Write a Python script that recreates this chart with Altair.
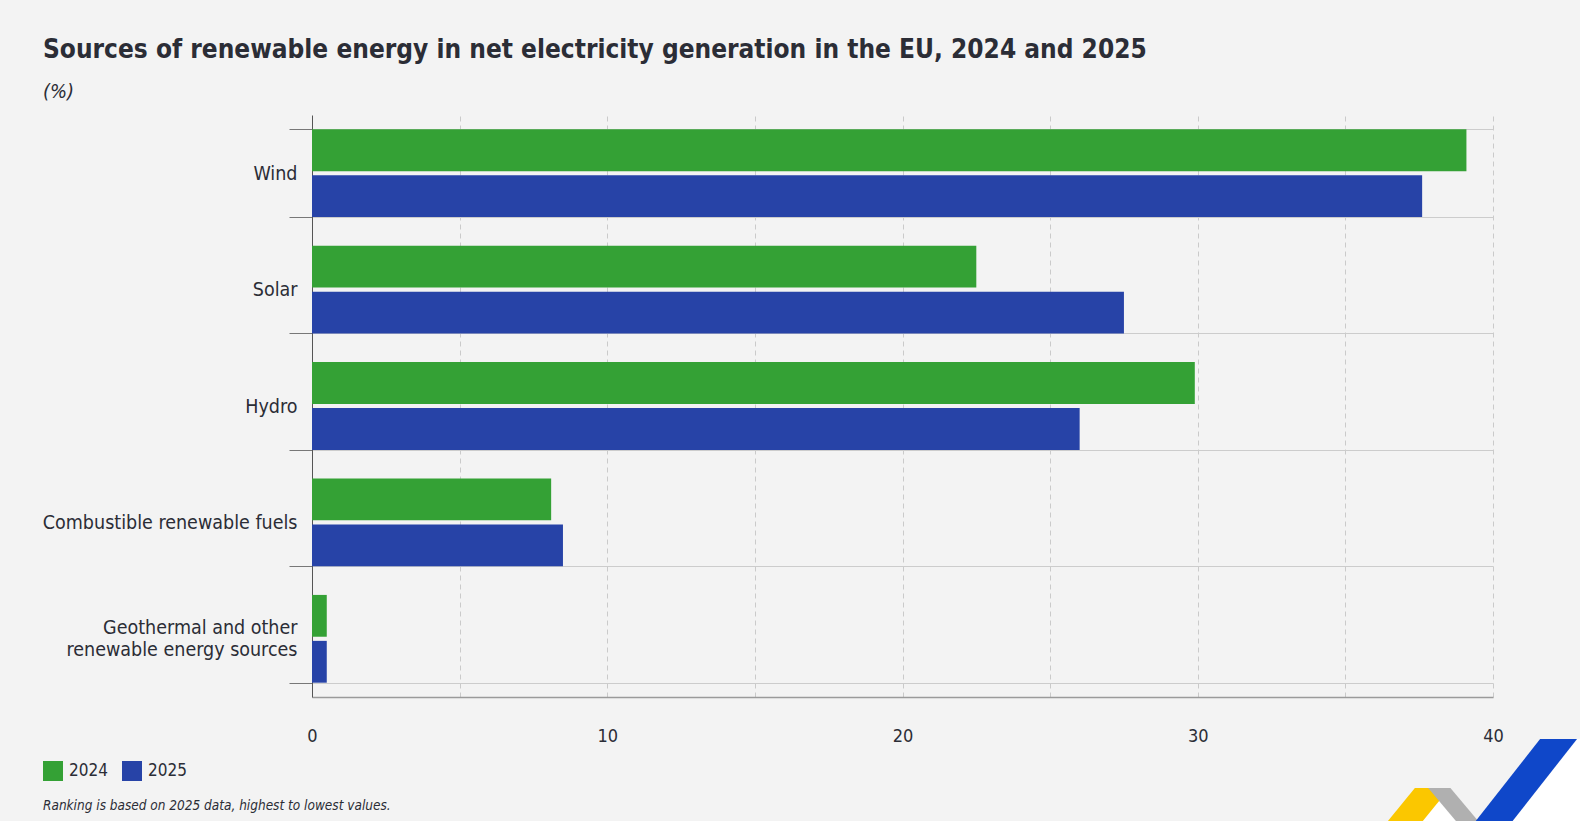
import altair as alt
import pandas as pd

categories = ["Wind", "Solar", "Hydro", "Combustible renewable fuels",
              "Geothermal and other renewable energy sources"]
years = ["2024", "2025"]
v2024 = [39.1, 22.5, 29.9, 8.1, 0.5]
v2025 = [37.6, 27.5, 26.0, 8.5, 0.5]
colors = ["#34a135", "#2743a7"]
x_ticks = [0, 5, 10, 15, 20, 25, 30, 35, 40]

rows = []
for c, a, b in zip(categories, v2024, v2025):
    rows.append({"source": c, "year": years[0], "value": a})
    rows.append({"source": c, "year": years[1], "value": b})
df = pd.DataFrame(rows)

FONT = "Liberation Sans Narrow, DejaVu Sans Condensed, sans-serif"
TXT = "#2b2d36"
BG = "#f3f3f3"
LONG = "Geothermal and other renewable energy sources"

label_expr = ("datum.label == '" + LONG + "' ? "
              "['Geothermal and other', 'renewable energy sources'] : datum.label")

bars = alt.Chart(df).mark_bar().encode(
    x=alt.X("value:Q",
            scale=alt.Scale(domain=[0, 40], nice=False),
            axis=alt.Axis(values=x_ticks, title=None, ticks=False, labelFlush=False,
                          labelExpr="datum.value % 10 === 0 ? datum.label : ''",
                          grid=True, gridDash=[5, 4], gridColor="#cacaca",
                          gridWidth=1, domain=True, domainColor="#9a9a9a",
                          domainWidth=1.5, labelPadding=30, labelFontSize=18,
                          labelFont=FONT, labelColor=TXT)),
    y=alt.Y("source:N", sort=categories,
            scale=alt.Scale(paddingInner=0.246, paddingOuter=0.123),
            axis=alt.Axis(title=None, tickBand="extent", ticks=True, tickSize=23,
                          tickColor="#777777", grid=True, gridColor="#cccccc",
                          gridWidth=1, domain=True, domainColor="#555555",
                          domainWidth=1, labelPadding=-8, labelFontSize=19.5,
                          labelFont=FONT, labelColor=TXT, labelLimit=400,
                          labelLineHeight=22, labelExpr=label_expr,
                          labelBaseline={"condition": {"test": "datum.value == '" + LONG + "'",
                                                       "value": "line-bottom"},
                                         "value": "middle"})),
    yOffset=alt.YOffset("year:N", scale=alt.Scale(paddingInner=0.09)),
    color=alt.Color("year:N",
                    scale=alt.Scale(domain=years, range=colors),
                    legend=alt.Legend(title=None, orient="none", legendX=-269,
                                      legendY=646, direction="horizontal",
                                      symbolType="square", symbolSize=400,
                                      symbolStrokeWidth=0, labelFontSize=17,
                                      labelFont=FONT, labelColor=TXT,
                                      columnPadding=14, labelOffset=6)),
)

one = pd.DataFrame({"k": [0]})
foot = alt.Chart(one).mark_text(
    align="left", baseline="middle", font=FONT, fontSize=13.5,
    fontStyle="italic", color=TXT
).encode(x=alt.value(-269), y=alt.value(691),
         text=alt.value("Ranking is based on 2025 data, highest to lowest values."))


def stripe(x1, y1, x2, y2, w, col):
    return alt.Chart(one).mark_rule(strokeWidth=w, color=col, strokeCap="butt").encode(
        x=alt.value(x1), y=alt.value(y1), x2=alt.value(x2), y2=alt.value(y2))


# decorative logo in the bottom-right corner
logo = [
    stripe(1313, 612, 1194, 763, 60, "#ffffff"),
    stripe(1110.8, 690, 1157.5, 745, 30, "#ffffff"),
    stripe(1135, 655, 1069.7, 735, 27, "#fbc700"),
    stripe(1113, 656, 1166, 719, 17, "#b0b0b0"),
    stripe(1254.4, 614, 1159.4, 735, 29, "#0f47c9"),
    stripe(1194, 612, 1290, 612, 24, BG),
    stripe(1068, 658, 1158, 658, 30, BG),
]

chart = alt.layer(bars, foot, *logo).properties(
    width=1181, height=582,
    autosize=alt.AutoSizeParams(type="none"),
    padding={"left": 312, "top": 115, "right": 87, "bottom": 124},
    background=BG,
    title=alt.TitleParams(
        text="Sources of renewable energy in net electricity generation in the EU, 2024 and 2025",
        subtitle="(%)", anchor="start", frame="group", dx=-269, offset=3,
        font=FONT, fontSize=26, fontWeight="bold", color=TXT,
        subtitleFont=FONT, subtitleFontSize=20, subtitleFontStyle="italic",
        subtitleColor=TXT, subtitlePadding=19),
).configure_view(stroke=None)

chart.save("out.html", embed_options={"renderer": "svg", "actions": False})
